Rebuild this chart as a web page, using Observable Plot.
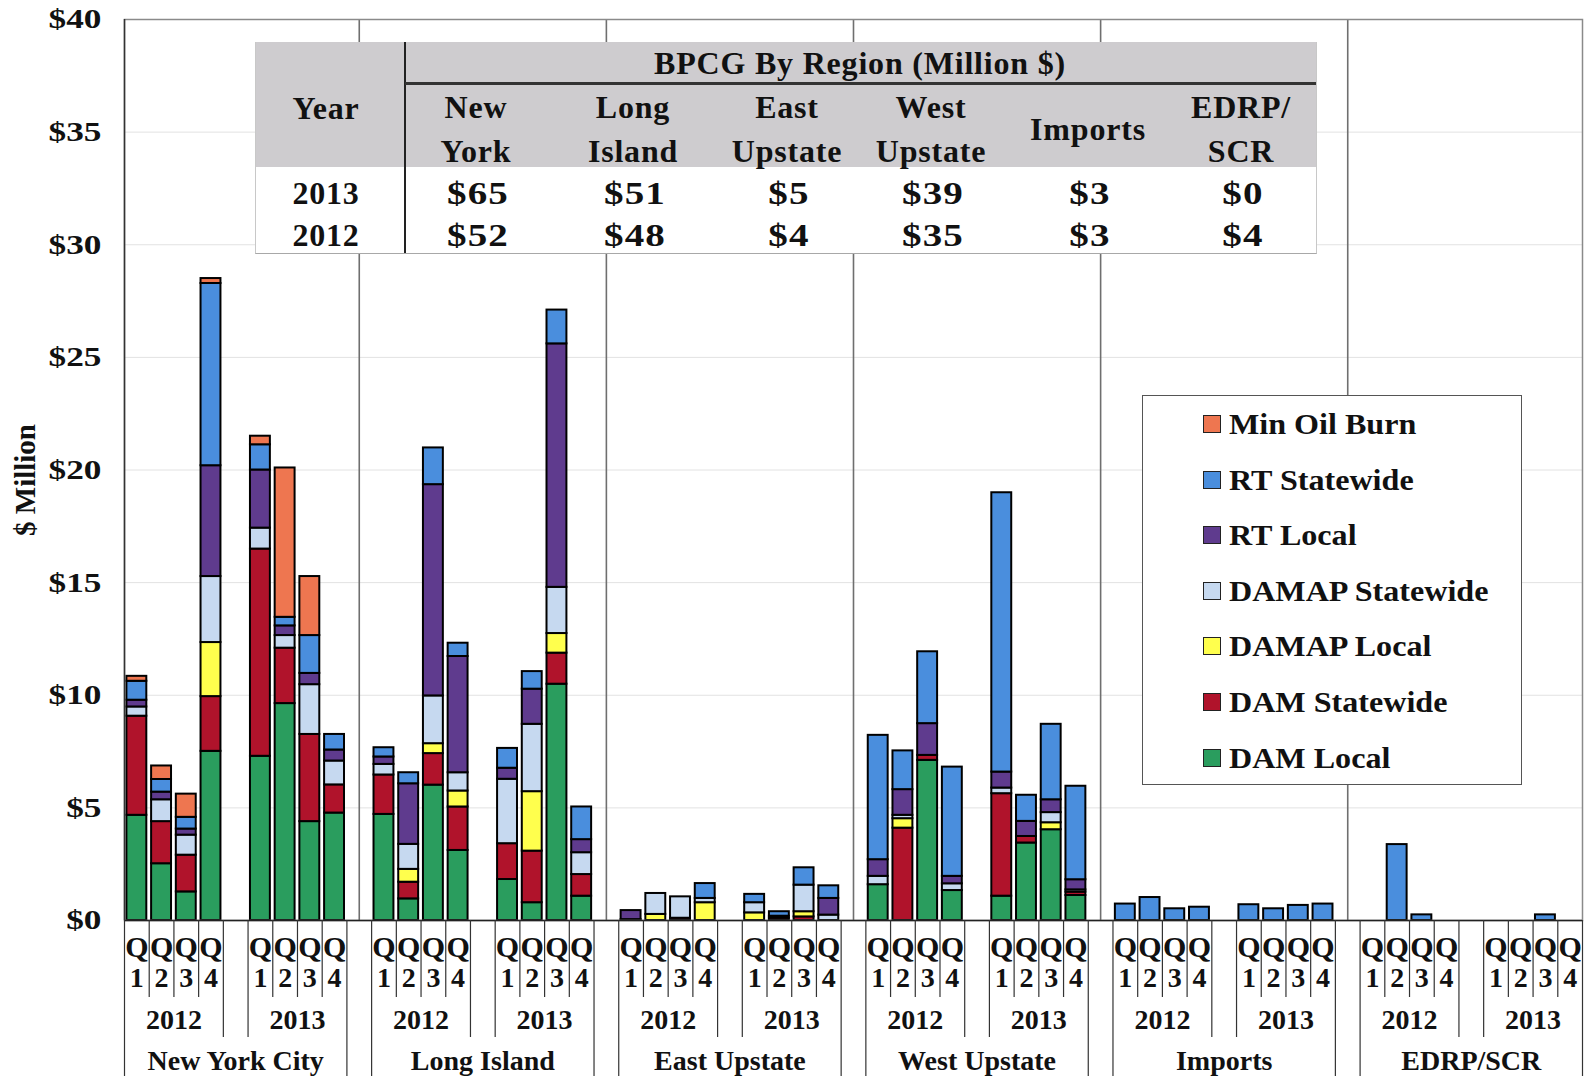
<!DOCTYPE html>
<html><head><meta charset="utf-8">
<script src="https://cdn.jsdelivr.net/npm/d3@7"></script>
<script src="https://cdn.jsdelivr.net/npm/@observablehq/plot@0.6"></script>
<style>
body{margin:0;background:#fff;}
#wrap{position:relative;width:1585px;height:1076px;overflow:hidden;font-family:"Liberation Serif","Times New Roman",serif;font-weight:bold;color:#111;}
.lab{position:absolute;transform:translate(-50%,-50%);white-space:pre;text-align:center;line-height:1;}
</style></head><body><div id="wrap"></div>
<script>
// ---- data ----
const regions = ["New York City","Long Island","East Upstate","West Upstate","Imports","EDRP/SCR"];
const years = ["2012","2013"];
const quarters = ["1","2","3","4"];
const seriesNames = ["DAM Local","DAM Statewide","DAMAP Local","DAMAP Statewide","RT Local","RT Statewide","Min Oil Burn"];
const seriesColors = ["#2a9d5e","#b0132b","#ffff4d","#c6d9f0","#5f3b8e","#4a8edd","#ee7650"];
const yTicks = [0,5,10,15,20,25,30,35,40];
// each array: region -> year -> quarter (48 values)
const damLocal = [
  4.67,2.52,1.27,7.51, 7.29,9.63,4.39,4.77,
  4.71,0.96,6.01,3.11, 1.82,0.79,10.49,1.08,
  0.04,0,0,0, 0,0,0,0,
  1.59,0,7.11,1.33, 1.08,3.44,4.03,1.11,
  0,0,0,0, 0,0,0,0,
  0,0,0,0, 0,0,0,0];
const damStatewide = [
  4.40,1.87,1.63,2.43, 9.20,2.46,3.87,1.25,
  1.75,0.74,1.40,1.93, 1.59,2.29,1.38,0.96,
  0,0,0.10,0, 0,0.10,0.16,0,
  0,4.10,0.22,0, 4.55,0.29,0,0.15,
  0,0,0,0, 0,0,0,0,
  0,0,0,0, 0,0,0,0];
const damapLocal = [
  0,0,0,2.40, 0,0,0,0,
  0,0.57,0.44,0.71, 0,2.64,0.87,0,
  0,0.27,0,0.79, 0.34,0,0.23,0,
  0,0.42,0,0, 0,0,0.31,0,
  0,0,0,0, 0,0,0,0,
  0,0,0,0, 0,0,0,0];
const damapStatewide = [
  0.41,0.97,0.89,2.93, 0.93,0.56,2.21,1.06,
  0.47,1.11,2.12,0.81, 2.86,2.99,2.05,0.97,
  0,0.93,0.95,0.19, 0.45,0.09,1.18,0.24,
  0.37,0.15,0,0.30, 0.25,0,0.45,0.10,
  0,0,0,0, 0,0,0,0,
  0,0,0,0, 0,0,0,0];
const rtLocal = [
  0.30,0.34,0.27,4.92, 2.58,0.43,0.50,0.49,
  0.33,2.69,9.38,5.16, 0.49,1.56,10.81,0.58,
  0.40,0,0,0, 0,0,0,0.74,
  0.74,1.14,1.41,0.33, 0.71,0.67,0.57,0.45,
  0,0,0,0, 0,0,0,0,
  0,0,0,0, 0,0,0,0];
const rtStatewide = [
  0.84,0.56,0.52,8.09, 1.12,0.38,1.68,0.69,
  0.41,0.49,1.63,0.59, 0.88,0.78,1.50,1.45,
  0,0,0,0.66, 0.37,0.20,0.77,0.56,
  5.52,1.72,3.19,4.85, 12.40,1.16,3.35,4.15,
  0.73,1.02,0.52,0.59, 0.70,0.52,0.67,0.73,
  0,3.37,0.25,0, 0,0,0.25,0];
const minOilBurn = [
  0.22,0.60,1.03,0.22, 0.38,6.63,2.62,0,
  0,0,0,0, 0,0,0,0,
  0,0,0,0, 0,0,0,0,
  0,0,0,0, 0,0,0,0,
  0,0,0,0, 0,0,0,0,
  0,0,0,0, 0,0,0,0];
// inset table
const tableTitle = "BPCG By Region (Million $)";
const tableYearHeader = "Year";
const tableCols = ["New\nYork","Long\nIsland","East\nUpstate","West\nUpstate","Imports","EDRP/\nSCR"];
const tableYears = ["2013","2012"];
const bpcg2013 = [65,51,5,39,3,0];
const bpcg2012 = [52,48,4,35,3,4];
const yLabel = "$ Million";

// ---- build ----
const seriesValues = [damLocal, damStatewide, damapLocal, damapStatewide, rtLocal, rtStatewide, minOilBurn];
const rows = [], qLabels = [], yearLabels = [], regionLabels = [];
const quarterLines = [], yearLines = [], regionLines = [], dividers = [];
regions.forEach((reg, r) => {
  regionLabels.push({pos: r*10 + 4.5, text: reg});
  regionLines.push(r*10, r*10 + 9);
  if (r < regions.length - 1) dividers.push(r*10 + 9.5);
  years.forEach((yr, y) => {
    yearLabels.push({pos: r*10 + y*5 + 2, text: yr});
    if (y === 0) yearLines.push(r*10 + 4); else yearLines.push(r*10 + 5);
    quarters.forEach((q, k) => {
      const idx = r*8 + y*4 + k, pos = r*10 + y*5 + k;
      qLabels.push({pos: pos + 0.5, q});
      if (k < 3) quarterLines.push(pos + 1);
      seriesNames.forEach((s, j) => {
        const v = seriesValues[j][idx];
        if (v > 0) rows.push({pos, pos2: pos + 1, series: s, value: v});
      });
    });
  });
});

const chart = Plot.plot({
  width: 1585, height: 1076,
  marginLeft: 124, marginRight: 3, marginTop: 19, marginBottom: 156,
  x: {domain: [0, 59], axis: null},
  y: {domain: [0, 40], axis: null},
  color: {domain: seriesNames, range: seriesColors},
  style: {fontFamily: '"Liberation Serif","Times New Roman",serif', fontWeight: "bold", background: "white", color: "#111"},
  marks: [
    Plot.ruleY(yTicks.filter(d => d > 0), {stroke: "#e2e2e2", strokeWidth: 1}),
    Plot.ruleX(dividers, {stroke: "#6f6f6f", strokeWidth: 1.6}),
    Plot.rectY(rows, {x1: "pos", x2: "pos2", y: "value", fill: "series", order: seriesNames,
      stroke: "#000", strokeWidth: 2, insetLeft: 2.4, insetRight: 2.4}),
    Plot.frame({stroke: "#8a8a8a", strokeWidth: 1.5}),
    Plot.ruleY([0], {stroke: "#222", strokeWidth: 1.5}),
    Plot.ruleX([0], {stroke: "#333", strokeWidth: 1.5}),
    Plot.ruleX(quarterLines, {insetTop: 901, insetBottom: -77, stroke: "#333", strokeWidth: 1.2}),
    Plot.ruleX(yearLines, {insetTop: 901, insetBottom: -117, stroke: "#333", strokeWidth: 1.2}),
    Plot.ruleX(regionLines, {insetTop: 901, insetBottom: -160, stroke: "#333", strokeWidth: 1.2}),
    Plot.text(qLabels, {x: "pos", text: () => "Q", frameAnchor: "bottom", lineAnchor: "middle", dy: 27, fontSize: 30, fill: "#111"}),
    Plot.text(qLabels, {x: "pos", text: "q", frameAnchor: "bottom", lineAnchor: "middle", dy: 58, fontSize: 28, fill: "#111"}),
    Plot.text(yearLabels, {x: "pos", text: "text", frameAnchor: "bottom", lineAnchor: "middle", dy: 100, fontSize: 28, fill: "#111"}),
    Plot.text(regionLabels, {x: "pos", text: "text", frameAnchor: "bottom", lineAnchor: "middle", dy: 141, fontSize: 28, fill: "#111"}),
    Plot.text(yTicks, {y: d => d, text: d => "$" + d, frameAnchor: "left", lineAnchor: "middle", dx: -23, textAnchor: "end", fontSize: 28, fill: "#111"}),
    Plot.text([yLabel], {frameAnchor: "left", rotate: -90, textAnchor: "middle", lineAnchor: "middle", dx: -99, dy: 10, fontSize: 29, fill: "#111"})
  ]
});
// widen the y tick labels like the reference (stretch around the right anchor)
d3.select(chart).selectAll("text")
  .filter(function() { return /^\$\d+$/.test(this.textContent); })
  .each(function() {
    const el = d3.select(this);
    const t = el.attr("transform");
    if (t) el.attr("transform", `${t} scale(1.26,1)`);
  });
const wrap = document.getElementById("wrap");
wrap.appendChild(chart);

function lab(parent, text, x, y, css) {
  const d = document.createElement("div");
  d.className = "lab"; d.textContent = text;
  d.style.left = x + "px"; d.style.top = y + "px";
  Object.assign(d.style, css || {});
  parent.appendChild(d);
  return d;
}
function box(parent, css) {
  const d = document.createElement("div");
  d.style.position = "absolute";
  Object.assign(d.style, css);
  parent.appendChild(d);
  return d;
}

// ---- inset table ----
const tbl = box(wrap, {left: "255px", top: "42px", width: "1060px", height: "211px", background: "#fff", borderBottom: "1.5px solid #a8a8a8", borderLeft: "1px solid #c8c8c8", borderRight: "1px solid #c8c8c8"});
box(tbl, {left: "0px", top: "0px", width: "1060px", height: "125px", background: "#cecccf"});
box(tbl, {left: "148px", top: "0px", width: "2px", height: "211px", background: "#222"});
box(tbl, {left: "149px", top: "40px", width: "911px", height: "2.5px", background: "#333"});
const tf = {fontSize: "32px", letterSpacing: "0.8px"};
const tn = {fontSize: "32px", letterSpacing: "1px", transform: "translate(-50%,-50%) scaleX(1.22)"};
lab(tbl, tableTitle, 604, 21, tf);
lab(tbl, tableYearHeader, 70, 66, tf);
const colX = [220, 377, 531, 675, 832, 985];
tableCols.forEach((c, i) => lab(tbl, c, colX[i], 88, Object.assign({lineHeight: "43.7px"}, tf)));
[bpcg2013, bpcg2012].forEach((vals, r) => {
  const yy = 151 + r*42;
  lab(tbl, tableYears[r], 70, yy, tf);
  vals.forEach((v, i) => lab(tbl, "$" + v, colX[i] + 2, yy, tn));
});

// ---- legend ----
const leg = box(wrap, {left: "1142px", top: "395px", width: "378px", height: "388px", background: "#fff", border: "1.5px solid #555"});
seriesNames.slice().reverse().forEach((s, i) => {
  const cy = 28 + i*55.6;
  const col = seriesColors[seriesNames.indexOf(s)];
  box(leg, {left: "60px", top: (cy - 9) + "px", width: "16px", height: "16px", background: col, border: "1.5px solid #222"});
  const t = box(leg, {left: "86px", top: (cy - 16) + "px", fontSize: "30px", lineHeight: "32px", whiteSpace: "pre", transform: "scaleX(1.07)", transformOrigin: "left center"});
  t.textContent = s;
});
</script></body></html>
